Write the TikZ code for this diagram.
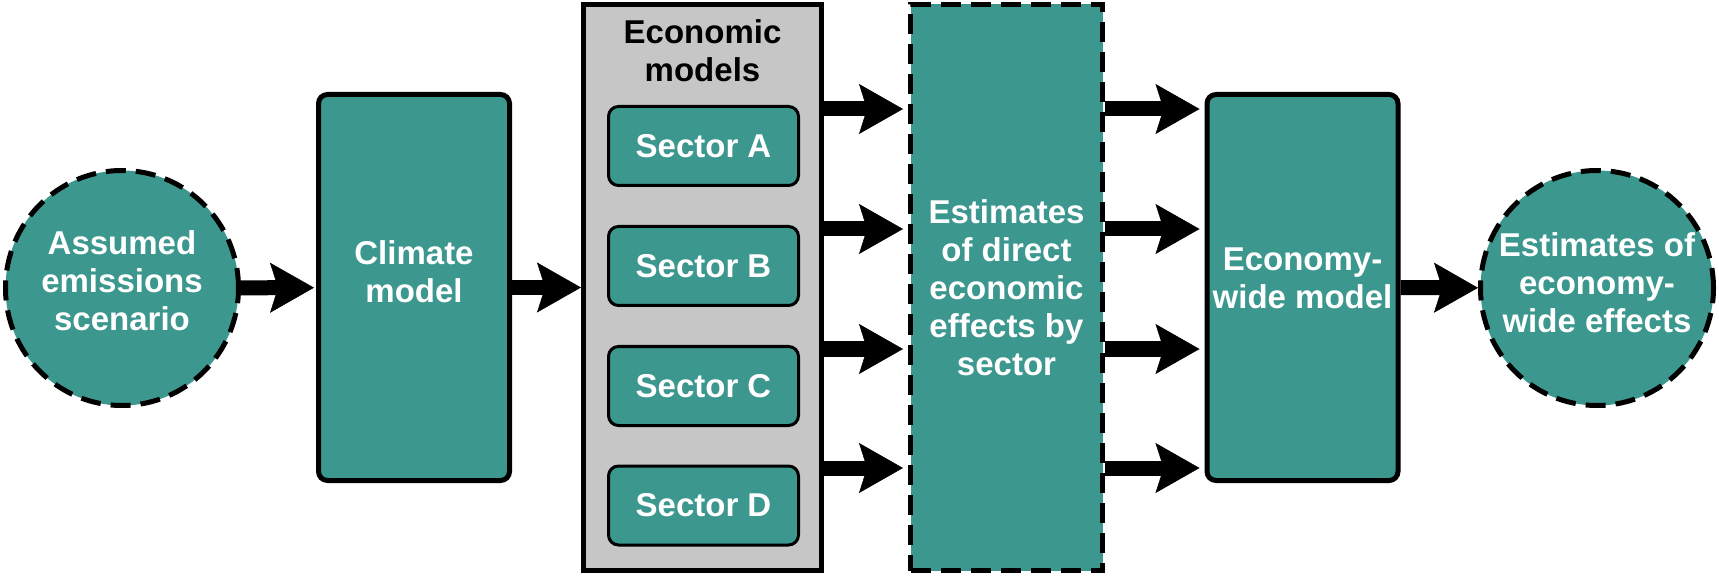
\documentclass[tikz,border=0pt]{standalone}
\usepackage{fontspec}
\setmainfont{Liberation Sans}
\usetikzlibrary{arrows.meta,shapes.geometric,calc}
\definecolor{tealfill}{HTML}{3C978E}
\definecolor{grayfill}{HTML}{C6C6C6}
\begin{document}
\begin{tikzpicture}[x=1pt,y=-1pt,
  every node/.style={font=\fontsize{33}{38}\selectfont\bfseries, align=center, inner sep=0pt},
  tealbox/.style={draw=black, line width=5pt, fill=tealfill, rounded corners=9pt, minimum width=191pt, minimum height=386pt},
  wtext/.style={text=white},
  dashedcircle/.style={ellipse, draw=black, line width=5pt, dash pattern=on 20pt off 10pt, fill=tealfill, minimum width=233pt, minimum height=235pt},
  dashedrect/.style={draw=black, line width=5pt, dash pattern=on 20pt off 10pt, fill=tealfill, text=white, minimum width=192pt, minimum height=566pt},
  graybox/.style={draw=black, line width=5pt, fill=grayfill, minimum width=238pt, minimum height=566pt},
  sectorbox/.style={draw=black, line width=3pt, fill=tealfill, rounded corners=10pt, text=white, minimum width=190pt, minimum height=79pt},
  arr/.style={line width=15pt, -{Stealth[length=44pt, width=50pt, inset=8pt, line width=0.5pt]}},
]
\useasboundingbox (0,0) rectangle (1719,577);

% nodes
\node[dashedcircle] (c1) at (122,288) {};
\node[wtext] (c1T) at ($(c1)+(0,-7)$) {Assumed\\emissions\\scenario};
\node[tealbox] (climate) at (414,287.5) {};
\node[wtext] (climateT) at ($(climate)+(0,-16)$) {Climate\\model};

\node[graybox] (gray) at (702.5,287.5) {};
\node (grayT) at (702.5,51) {Economic\\models};
\node[sectorbox] (sA) at (703.5,146) {Sector A};
\node[sectorbox] (sB) at (703.5,266) {Sector B};
\node[sectorbox] (sC) at (703.5,386) {Sector C};
\node[sectorbox] (sD) at (703.5,505.5) {Sector D};

\node[dashedrect] (dir) at (1006.5,287.5) {Estimates\\of direct\\economic\\effects by\\sector};

\node[tealbox] (eco) at (1302.5,287.5) {};
\node[wtext] (ecoT) at ($(eco)+(0,-9)$) {Economy-\\wide model};

\node[dashedcircle] (c2) at (1597,288) {};
\node[wtext] (c2T) at ($(c2)+(0,-5)$) {Estimates of\\economy-\\wide effects};

% row coordinates
\coordinate (r1) at (0,109);
\coordinate (r2) at (0,229);
\coordinate (r3) at (0,349);
\coordinate (r4) at (0,468);

% connectors
\draw[arr, shorten >=2pt] (c1) -- (climate);
\draw[arr] (climate) -- (gray);
\foreach \r in {r1,r2,r3,r4}{
  \draw[arr, shorten >=5pt] (gray.east |- \r) -- (dir.west |- \r);
  \draw[arr, shorten >=5pt] (dir.east |- \r) -- (eco.west |- \r);
}
\draw[arr] (eco) -- (c2);
\end{tikzpicture}
\end{document}
